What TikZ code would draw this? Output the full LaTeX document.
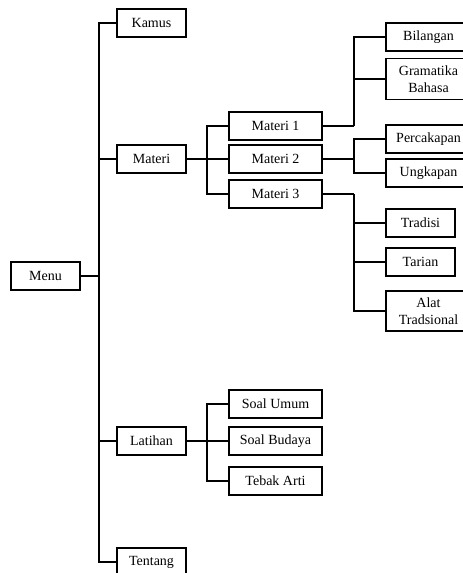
\documentclass[tikz,border=0pt]{standalone}
\usepackage{fontspec}
\setmainfont{Liberation Serif}
\usepackage{tikz}

\tikzset{
  kotak/.style={draw, line width=1.2pt, minimum width=69pt, minimum height=28pt, inner sep=1pt, align=center, font=\fontsize{14}{16.5}\selectfont},
  lebar/.style={kotak, minimum width=93pt},
  ujung/.style={kotak, minimum width=85pt},
  garis/.style={line width=1.2pt}
}

\begin{document}
\begin{tikzpicture}[x=1pt,y=-1pt]
\useasboundingbox (0,0) rectangle (463,573);
\clip (0,0) rectangle (463,573);

\node[kotak] (menu) at (45.5,276) {Menu};

\node[kotak] (kamus) at (151.5,23) {Kamus};
\node[kotak] (materi) at (151.5,159) {Materi};
\node[kotak] (latihan) at (151.5,441) {Latihan};
\node[kotak] (tentang) at (151.5,562) {Tentang};

\node[lebar] (materi1) at (275.5,126) {Materi 1};
\node[lebar] (materi2) at (275.5,159) {Materi 2};
\node[lebar] (materi3) at (275.5,194) {Materi 3};

\node[ujung] (bilangan) at (428.5,37) {Bilangan};
\node[ujung, minimum height=41pt] (gramatika) at (428.5,79) {Gramatika\\Bahasa};
\node[ujung] (percakapan) at (428.5,139) {Percakapan};
\node[ujung] (ungkapan) at (428.5,173) {Ungkapan};
\node[kotak] (tradisi) at (420.5,223) {Tradisi};
\node[kotak] (tarian) at (420.5,262) {Tarian};
\node[ujung, minimum height=40pt] (alat) at (428.5,311) {Alat\\Tradsional};

\node[lebar] (soalumum) at (275.5,404) {Soal Umum};
\node[lebar] (soalbudaya) at (275.5,441) {Soal Budaya};
\node[lebar] (tebakarti) at (275.5,481) {Tebak Arti};

\coordinate (cabang0) at (99,276);
\draw[garis] (menu.east) -- (cabang0);
\draw[garis] (cabang0) |- (kamus.west);
\draw[garis] (cabang0) |- (materi.west);
\draw[garis] (cabang0) |- (latihan.west);
\draw[garis] (cabang0) |- (tentang.west);

\coordinate (cabangM) at (207,159);
\draw[garis] (materi.east) -- (cabangM);
\draw[garis] (cabangM) |- (materi1.west);
\draw[garis] (cabangM) -- (materi2.west);
\draw[garis] (cabangM) |- (materi3.west);

\coordinate (cabang1) at (354,126);
\draw[garis] (materi1.east) -- (cabang1);
\draw[garis] (cabang1) |- (bilangan.west);
\draw[garis] (cabang1) |- (gramatika.west);

\coordinate (cabang2) at (354,159);
\draw[garis] (materi2.east) -- (cabang2);
\draw[garis] (cabang2) |- (percakapan.west);
\draw[garis] (cabang2) |- (ungkapan.west);

\coordinate (cabang3) at (354,194);
\draw[garis] (materi3.east) -- (cabang3);
\draw[garis] (cabang3) |- (tradisi.west);
\draw[garis] (cabang3) |- (tarian.west);
\draw[garis] (cabang3) |- (alat.west);

\coordinate (cabangL) at (207,441);
\draw[garis] (latihan.east) -- (cabangL);
\draw[garis] (cabangL) |- (soalumum.west);
\draw[garis] (cabangL) -- (soalbudaya.west);
\draw[garis] (cabangL) |- (tebakarti.west);
\end{tikzpicture}
\end{document}
